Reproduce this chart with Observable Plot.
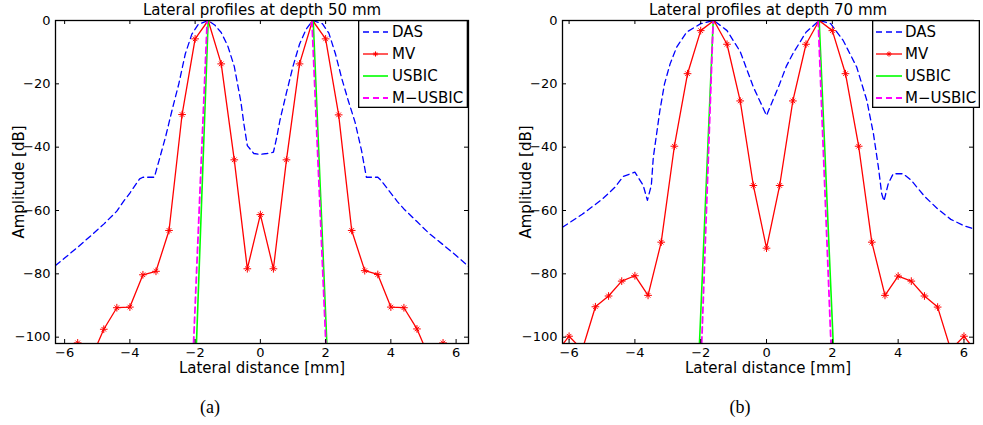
<!DOCTYPE html>
<html>
<head>
<meta charset="utf-8">
<script src="https://cdn.jsdelivr.net/npm/d3@7"></script>
<script src="https://cdn.jsdelivr.net/npm/@observablehq/plot@0.6"></script>
<style>
  html, body { margin: 0; padding: 0; background: #fff; }
  #wrap { position: relative; width: 983px; height: 425px; overflow: hidden; background: #fff; }
  .panel { position: absolute; top: 0; }
  .legend { position: absolute; top: 20px; }
  .cap { position: absolute; font-family: "Liberation Serif", "DejaVu Serif", serif; font-size: 18px; transform: translate(-50%, -50%); white-space: nowrap; }
</style>
</head>
<body>
<div id="wrap"></div>
<script>
// ---------- text ----------
const titles = ["Lateral profiles at depth 50 mm", "Lateral profiles at depth 70 mm"];
const captions = ["(a)", "(b)"];
const xLabel = "Lateral distance [mm]";
const yLabel = "Amplitude [dB]";
const legendNames = ["DAS", "MV", "USBIC", "M\u2212USBIC"];
const xTicks = [-6, -4, -2, 0, 2, 4, 6];
const yTicks = [0, -20, -40, -60, -80, -100];

// ---------- panel (a): depth 50 mm ----------
const dasX_a = [-6.28, -6.0, -5.6, -5.2, -4.8, -4.4, -4.2, -4.0, -3.7, -3.6, -3.25, -3.1, -2.9, -2.7, -2.5, -2.3, -2.1, -1.9, -1.6, -1.4, -1.2, -1.0, -0.8, -0.6, -0.5, -0.4, -0.2, 0, 0.2, 0.4, 0.5, 0.6, 0.8, 1.0, 1.2, 1.4, 1.6, 1.9, 2.1, 2.3, 2.5, 2.7, 2.9, 3.1, 3.25, 3.6, 3.7, 4.0, 4.2, 4.4, 4.8, 5.2, 5.6, 6.0, 6.38];
const dasY_a = [-77.4, -75.0, -71.6, -68.0, -64.3, -60.2, -57.2, -54.5, -50.0, -49.5, -49.5, -44.0, -36.5, -28.0, -20.0, -10.5, -4.3, -1.2, 0, -1.4, -3.8, -8.0, -14.5, -25.5, -33.0, -39.5, -42.0, -42.3, -42.0, -41.6, -37.0, -31.5, -22.8, -14.5, -7.5, -2.8, 0, -1.0, -4.0, -10.5, -18.5, -25.5, -32.0, -41.0, -49.5, -49.5, -50.5, -54.5, -57.2, -59.5, -63.5, -67.5, -70.8, -74.2, -77.7];
const mvX_a = [-6.0, -5.6, -5.2, -4.8, -4.4, -4.0, -3.6, -3.2, -2.8, -2.4, -2.0, -1.6, -1.2, -0.8, -0.4, 0, 0.4, 0.8, 1.2, 1.6, 2.0, 2.4, 2.8, 3.2, 3.6, 4.0, 4.4, 4.8, 5.2, 5.6, 6.0];
const mvY_a = [-110, -101.8, -107, -97.5, -90.7, -90.5, -80.3, -79.2, -66.3, -29.7, -5.8, 0, -13.7, -44.0, -78.4, -61.3, -78.4, -44.0, -13.7, 0, -5.8, -29.8, -66.3, -79.0, -80.2, -90.5, -90.7, -97.4, -107, -101.8, -110];
const usbicX_a = [-1.97, -1.6, 1.62, 2.05];
const usbicY_a = [-105, 0, 0, -105];
const musbicX_a = [-2.06, -1.63, 1.58, 2.02];
const musbicY_a = [-105, 0, 0, -105];
const lobe_a = ["left", "left", "right", "right"];
const xDomain_a = [-6.28, 6.38];

// ---------- panel (b): depth 70 mm ----------
const dasX_b = [-6.2, -5.6, -5.0, -4.6, -4.35, -4.0, -3.75, -3.62, -3.5, -3.44, -3.34, -3.24, -3.1, -2.93, -2.73, -2.43, -2.0, -1.6, -1.2, -0.8, -0.55, -0.4, -0.2, 0, 0.2, 0.4, 0.6, 0.8, 1.2, 1.6, 1.95, 2.33, 2.74, 3.05, 3.25, 3.4, 3.5, 3.57, 3.7, 3.85, 4.15, 4.4, 4.8, 5.2, 5.6, 6.0, 6.29];
const dasY_b = [-65.3, -61.2, -56.5, -52.6, -49.2, -47.9, -52.0, -56.8, -52.0, -43.2, -35.8, -28.4, -20.0, -13.7, -8.4, -3.7, -1.0, 0, -3.2, -9.8, -16.8, -21.0, -25.5, -30.0, -25.0, -20.0, -14.5, -10.5, -3.7, 0, -1.0, -6.3, -14.7, -25.3, -35.8, -46.3, -54.7, -57.0, -51.5, -48.4, -48.4, -50.5, -55.5, -59.5, -62.8, -64.8, -65.8];
const mvX_b = [-6.4, -6.0, -5.6, -5.2, -4.8, -4.4, -4.0, -3.6, -3.2, -2.8, -2.4, -2.0, -1.6, -1.2, -0.8, -0.4, 0, 0.4, 0.8, 1.2, 1.6, 2.0, 2.4, 2.8, 3.2, 3.6, 4.0, 4.4, 4.8, 5.2, 5.6, 6.0, 6.4];
const mvY_b = [-105, -99.7, -104, -90.4, -87.0, -82.3, -80.6, -86.8, -70.0, -39.7, -16.8, -3.2, 0, -7.5, -25.4, -52.1, -71.9, -52.1, -25.4, -7.5, 0, -3.2, -16.8, -39.7, -70.0, -86.8, -80.7, -82.3, -87.0, -90.5, -104, -99.7, -105];
const usbicX_b = [-2.05, -1.62, 1.6, 2.04];
const usbicY_b = [-105, 0, 0, -105];
const musbicX_b = [-1.98, -1.62, 1.57, 1.97];
const musbicY_b = [-105, 0, 0, -105];
const lobe_b = ["left", "left", "right", "right"];
const xDomain_b = [-6.2, 6.29];

const yDomain = [-102, 0];

// ---------- styles ----------
const colors = {DAS: "#0000ff", MV: "#ff0000", USBIC: "#00ff00", MUSBIC: "#ff00ff"};
const FONT = "'DejaVu Sans', 'Liberation Sans', sans-serif";

const zip = (xs, ys, zs) => xs.map((x, i) => ({x, y: ys[i], z: zs ? zs[i] : null}));

function panel(cfg) {
  const {left, width, height, mL, mR, mT, mB} = cfg;
  const plotW = width - mL - mR, plotH = height - mT - mB;
  const das = zip(cfg.dasX, cfg.dasY);
  const mv = zip(cfg.mvX, cfg.mvY);
  const us = zip(cfg.usX, cfg.usY, cfg.lobe);
  const mus = zip(cfg.musX, cfg.musY, cfg.lobe);
  const svg = Plot.plot({
    width, height,
    marginLeft: mL, marginRight: mR, marginTop: mT, marginBottom: mB,
    x: {domain: cfg.xDomain},
    y: {domain: yDomain},
    style: {fontFamily: FONT, fontSize: "13px", background: "transparent", color: "black", overflow: "visible"},
    marks: [
      Plot.line(das, {x: "x", y: "y", stroke: colors.DAS, strokeWidth: 1.3, strokeDasharray: "6,4", clip: true}),
      Plot.line(mv, {x: "x", y: "y", stroke: colors.MV, strokeWidth: 1.3, clip: true}),
      Plot.dot(mv, {x: "x", y: "y", symbol: "plus", r: 2.6, stroke: colors.MV, strokeWidth: 1, clip: true}),
      Plot.dot(mv, {x: "x", y: "y", symbol: "times", r: 2.2, stroke: colors.MV, strokeWidth: 1, clip: true}),
      Plot.line(us, {x: "x", y: "y", z: "z", stroke: colors.USBIC, strokeWidth: 1.6, clip: true}),
      Plot.line(mus, {x: "x", y: "y", z: "z", stroke: colors.MUSBIC, strokeWidth: 1.8, strokeDasharray: "6,4", clip: true}),
      Plot.frame({stroke: "black", strokeWidth: 1.3}),
      // inward tick marks on all four sides
      Plot.tickY(yTicks, {y: d => d, insetRight: plotW - 4, stroke: "black", strokeWidth: 1}),
      Plot.tickY(yTicks, {y: d => d, insetLeft: plotW - 4, stroke: "black", strokeWidth: 1}),
      Plot.tickX(xTicks, {x: d => d, insetTop: plotH - 4, stroke: "black", strokeWidth: 1}),
      Plot.tickX(xTicks, {x: d => d, insetBottom: plotH - 4, stroke: "black", strokeWidth: 1}),
      Plot.axisX(xTicks, {tickSize: 0, tickPadding: 4, label: null, fontSize: 13}),
      Plot.axisY(yTicks, {tickSize: 0, tickPadding: 5, label: null, fontSize: 13}),
      Plot.text([cfg.title], {frameAnchor: "top", textAnchor: "middle", lineAnchor: "middle", dy: -10, fontSize: 15, text: d => d}),
      Plot.text([xLabel], {frameAnchor: "bottom", textAnchor: "middle", lineAnchor: "middle", dy: 25, fontSize: 15, text: d => d}),
      Plot.text([yLabel], {frameAnchor: "left", textAnchor: "middle", lineAnchor: "middle", dx: -36, rotate: -90, fontSize: 15, text: d => d})
    ]
  });
  const div = document.createElement("div");
  div.className = "panel";
  div.style.left = left + "px";
  div.appendChild(svg);
  document.getElementById("wrap").appendChild(div);
}

function legend(cfg) {
  const {left, width, height, rows, lineX0, lineX1, textX} = cfg;
  const styles = [
    {c: colors.DAS, dash: "6,4", w: 1.3, marker: false},
    {c: colors.MV, dash: null, w: 1.3, marker: true},
    {c: colors.USBIC, dash: null, w: 1.6, marker: false},
    {c: colors.MUSBIC, dash: "6,4", w: 1.8, marker: false}
  ];
  let s = `<svg xmlns="http://www.w3.org/2000/svg" width="${width}" height="${height}" style="display:block;font-family:${FONT.replace(/"/g, "'")}">`;
  s += `<rect x="0.65" y="0.65" width="${width - 1.3}" height="${height - 1.3}" fill="#fff" stroke="#000" stroke-width="1.3"/>`;
  legendNames.forEach((name, i) => {
    const y = rows[i], st = styles[i];
    s += `<line x1="${lineX0}" x2="${lineX1}" y1="${y}" y2="${y}" stroke="${st.c}" stroke-width="${st.w}"${st.dash ? ` stroke-dasharray="${st.dash}"` : ""}/>`;
    if (st.marker) {
      const mx = (lineX0 + lineX1) / 2;
      s += `<path d="M${mx - 2.6},${y}h5.2M${mx},${y - 2.6}v5.2M${mx - 1.6},${y - 1.6}l3.2,3.2M${mx - 1.6},${y + 1.6}l3.2,-3.2" stroke="${st.c}" stroke-width="1"/>`;
    }
    s += `<text x="${textX}" y="${y}" dy="0.35em" font-size="15" fill="#000">${name}</text>`;
  });
  s += `</svg>`;
  const div = document.createElement("div");
  div.className = "legend";
  div.style.left = left + "px";
  div.innerHTML = s;
  document.getElementById("wrap").appendChild(div);
}

function caption(text, cx, cy) {
  const div = document.createElement("div");
  div.className = "cap";
  div.style.left = cx + "px";
  div.style.top = cy + "px";
  div.textContent = text;
  document.getElementById("wrap").appendChild(div);
}

panel({left: 0, width: 490, height: 380, mL: 55, mR: 22, mT: 20, mB: 37,
  xDomain: xDomain_a, title: titles[0],
  dasX: dasX_a, dasY: dasY_a, mvX: mvX_a, mvY: mvY_a,
  usX: usbicX_a, usY: usbicY_a, musX: musbicX_a, musY: musbicY_a, lobe: lobe_a});
panel({left: 500, width: 483, height: 380, mL: 62, mR: 10, mT: 20, mB: 37,
  xDomain: xDomain_b, title: titles[1],
  dasX: dasX_b, dasY: dasY_b, mvX: mvX_b, mvY: mvY_b,
  usX: usbicX_b, usY: usbicY_b, musX: musbicX_b, musY: musbicY_b, lobe: lobe_b});

legend({left: 358, width: 110, height: 88, rows: [12, 34, 56, 78], lineX0: 5, lineX1: 30, textX: 34});
legend({left: 872, width: 108, height: 88, rows: [12, 34, 56, 78], lineX0: 4, lineX1: 30, textX: 33});

caption(captions[0], 210, 407);
caption(captions[1], 740, 407);
</script>
</body>
</html>
